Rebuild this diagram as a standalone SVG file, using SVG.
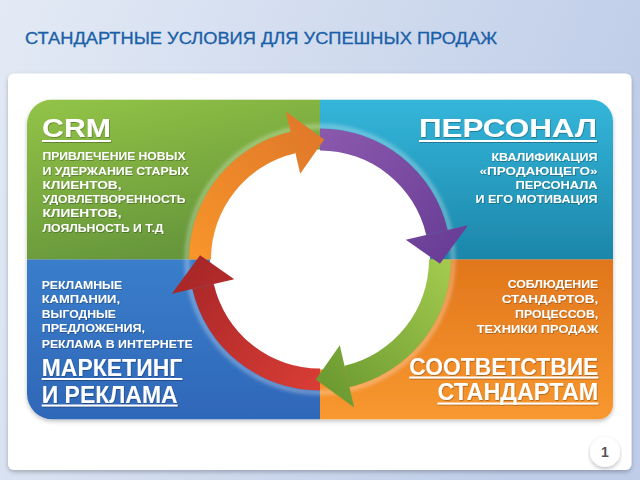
<svg xmlns="http://www.w3.org/2000/svg" width="640" height="480" viewBox="0 0 640 480">
<defs>
<linearGradient id="bg" x1="0" y1="0" x2="1" y2="0.3"><stop offset="0" stop-color="#e3eaf5"/><stop offset="1" stop-color="#bfcde8"/></linearGradient>
<linearGradient id="gGreen" x1="0" y1="0" x2="0.4" y2="1"><stop offset="0" stop-color="#93c447"/><stop offset="1" stop-color="#66963a"/></linearGradient>
<linearGradient id="gTeal" x1="0" y1="0" x2="0" y2="1"><stop offset="0" stop-color="#34b6da"/><stop offset="1" stop-color="#1c86a9"/></linearGradient>
<linearGradient id="gBlue" x1="0" y1="0" x2="0" y2="1"><stop offset="0" stop-color="#3a7ecb"/><stop offset="1" stop-color="#2f67b8"/></linearGradient>
<linearGradient id="gOrange" x1="0" y1="0" x2="0" y2="1"><stop offset="0" stop-color="#e1761c"/><stop offset="1" stop-color="#f8982f"/></linearGradient>
<linearGradient id="aOrange" gradientUnits="userSpaceOnUse" x1="195" y1="260" x2="320" y2="130"><stop offset="0" stop-color="#f8952a"/><stop offset="1" stop-color="#e0782a"/></linearGradient>
<linearGradient id="aPurple" gradientUnits="userSpaceOnUse" x1="320" y1="135" x2="445" y2="255"><stop offset="0" stop-color="#8a59ad"/><stop offset="1" stop-color="#6a3e96"/></linearGradient>
<linearGradient id="aGreen" gradientUnits="userSpaceOnUse" x1="445" y1="260" x2="320" y2="385"><stop offset="0" stop-color="#a2ca4e"/><stop offset="1" stop-color="#6c9a31"/></linearGradient>
<linearGradient id="aRed" gradientUnits="userSpaceOnUse" x1="320" y1="385" x2="195" y2="260"><stop offset="0" stop-color="#d83c35"/><stop offset="1" stop-color="#a82728"/></linearGradient>
<filter id="sh" x="-5%" y="-5%" width="110%" height="115%"><feDropShadow dx="0" dy="2" stdDeviation="2" flood-color="#000" flood-opacity="0.25"/></filter>
<filter id="tsh" x="-5%" y="-20%" width="110%" height="150%"><feDropShadow dx="0.6" dy="0.8" stdDeviation="0.5" flood-color="#000" flood-opacity="0.35"/></filter>
<filter id="glow" x="-10%" y="-10%" width="120%" height="120%"><feGaussianBlur stdDeviation="2"/></filter>
<clipPath id="quadClip"><path d="M52,99.5 H591 A22,22 0 0 1 613,121.5 V404.5 A15,15 0 0 1 598,419.5 H53 A26,26 0 0 1 27,393.5 V124.5 A25,25 0 0 1 52,99.5 Z"/></clipPath>
</defs>
<style>
.head{font-family:"Liberation Sans",Arial,sans-serif;font-weight:bold;font-size:26px;fill:#fff}
.head2{font-family:"Liberation Sans",Arial,sans-serif;font-weight:bold;font-size:23.5px;fill:#fff}
.body{font-family:"Liberation Sans",Arial,sans-serif;font-weight:bold;font-size:10.5px;fill:#fff}
.ul{fill:#fff}
</style>
<rect x="0" y="0" width="640" height="480" fill="url(#bg)"/>
<text x="25" y="44" font-family="'Liberation Sans',Arial,sans-serif" font-size="16" fill="#1a5fa8" stroke="#1a5fa8" stroke-width="0.3" textLength="472" lengthAdjust="spacingAndGlyphs">СТАНДАРТНЫЕ УСЛОВИЯ ДЛЯ УСПЕШНЫХ ПРОДАЖ</text>
<rect x="8" y="73.5" width="623.5" height="396.5" rx="6" fill="#fff" filter="url(#sh)"/>

<g filter="url(#sh)">
<g clip-path="url(#quadClip)">
<g id="crm"><rect x="27" y="99.5" width="293" height="160" fill="url(#gGreen)"/></g>
<g id="personal"><rect x="320" y="99.5" width="293" height="160" fill="url(#gTeal)"/></g>
<g id="marketing"><rect x="27" y="259.5" width="293" height="160" fill="url(#gBlue)"/></g>
<g id="standards"><rect x="320" y="259.5" width="293" height="160" fill="url(#gOrange)"/></g>
</g>
</g>

<circle cx="320" cy="259.5" r="133" fill="none" stroke="#fff" stroke-opacity="0.5" stroke-width="3" filter="url(#glow)"/>
<circle cx="320" cy="259.5" r="110" fill="#fff"/>

<g id="connectors">
<path fill="url(#aOrange)" d="M189,259.5 A131,131 0 0 1 290.53,131.86 L295.48,153.29 A109,109 0 0 0 211,259.5 Z"/>
<path fill="url(#aPurple)" d="M320,128.5 A131,131 0 0 1 447.64,230.03 L426.21,234.98 A109,109 0 0 0 320,150.5 Z"/>
<path fill="url(#aGreen)" d="M451,259.5 A131,131 0 0 1 349.47,387.14 L344.52,365.71 A109,109 0 0 0 429,259.5 Z"/>
<path fill="url(#aRed)" d="M320,390.5 A131,131 0 0 1 192.36,288.97 L213.79,284.02 A109,109 0 0 0 320,368.5 Z"/>
<path fill="url(#aOrange)" d="M285.81,111.40 L324.19,139.57 L300.20,173.76 Z"/>
<path fill="url(#aPurple)" d="M468.10,225.31 L439.93,263.69 L405.74,239.70 Z"/>
<path fill="url(#aGreen)" d="M354.19,407.60 L315.81,379.43 L339.80,345.24 Z"/>
<path fill="url(#aRed)" d="M171.90,293.69 L200.07,255.31 L234.26,279.30 Z"/>
</g>

<g id="crm-text" filter="url(#tsh)">
<text class="head" x="42" y="137" textLength="69" lengthAdjust="spacingAndGlyphs">CRM</text>
<rect class="ul" x="42" y="140" width="69" height="2"/>
<text class="body" x="42.5" y="160" textLength="143" lengthAdjust="spacingAndGlyphs">ПРИВЛЕЧЕНИЕ НОВЫХ</text>
<text class="body" x="42.5" y="174.5" textLength="146.5" lengthAdjust="spacingAndGlyphs">И УДЕРЖАНИЕ СТАРЫХ</text>
<text class="body" x="42.5" y="188.5" textLength="79" lengthAdjust="spacingAndGlyphs">КЛИЕНТОВ,</text>
<text class="body" x="42.5" y="203" textLength="143" lengthAdjust="spacingAndGlyphs">УДОВЛЕТВОРЕННОСТЬ</text>
<text class="body" x="42.5" y="217" textLength="79" lengthAdjust="spacingAndGlyphs">КЛИЕНТОВ,</text>
<text class="body" x="42.5" y="232" textLength="121" lengthAdjust="spacingAndGlyphs">ЛОЯЛЬНОСТЬ И Т.Д</text>
</g>

<g id="personal-text" filter="url(#tsh)">
<text class="head" x="419" y="137" textLength="178" lengthAdjust="spacingAndGlyphs">ПЕРСОНАЛ</text>
<rect class="ul" x="419" y="140" width="178" height="2"/>
<text class="body" x="491.5" y="160.5" textLength="106" lengthAdjust="spacingAndGlyphs">КВАЛИФИКАЦИЯ</text>
<text class="body" x="479.5" y="174.5" textLength="118" lengthAdjust="spacingAndGlyphs">«ПРОДАЮЩЕГО»</text>
<text class="body" x="515.5" y="189" textLength="82" lengthAdjust="spacingAndGlyphs">ПЕРСОНАЛА</text>
<text class="body" x="475.5" y="203.3" textLength="122" lengthAdjust="spacingAndGlyphs">И ЕГО МОТИВАЦИЯ</text>
</g>

<g id="marketing-text" filter="url(#tsh)">
<text class="body" x="41.7" y="289" textLength="80.6" lengthAdjust="spacingAndGlyphs">РЕКЛАМНЫЕ</text>
<text class="body" x="41.7" y="303.3" textLength="78.3" lengthAdjust="spacingAndGlyphs">КАМПАНИИ,</text>
<text class="body" x="41.7" y="318" textLength="74.3" lengthAdjust="spacingAndGlyphs">ВЫГОДНЫЕ</text>
<text class="body" x="41.7" y="332.3" textLength="103.3" lengthAdjust="spacingAndGlyphs">ПРЕДЛОЖЕНИЯ,</text>
<text class="body" x="41.7" y="347.7" textLength="151" lengthAdjust="spacingAndGlyphs">РЕКЛАМА В ИНТЕРНЕТЕ</text>
<text class="head2" x="41.7" y="376" textLength="140.6" lengthAdjust="spacingAndGlyphs">МАРКЕТИНГ</text>
<rect class="ul" x="41.7" y="378" width="140.6" height="2"/>
<text class="head2" x="41.7" y="402.5" textLength="136" lengthAdjust="spacingAndGlyphs">И РЕКЛАМА</text>
<rect class="ul" x="41.7" y="404.5" width="136" height="2"/>
</g>

<g id="standards-text" filter="url(#tsh)">
<text class="body" x="507.7" y="288.3" textLength="90.6" lengthAdjust="spacingAndGlyphs">СОБЛЮДЕНИЕ</text>
<text class="body" x="501.7" y="303.3" textLength="96.6" lengthAdjust="spacingAndGlyphs">СТАНДАРТОВ,</text>
<text class="body" x="515" y="318.3" textLength="83.3" lengthAdjust="spacingAndGlyphs">ПРОЦЕССОВ,</text>
<text class="body" x="476.7" y="333.3" textLength="121.6" lengthAdjust="spacingAndGlyphs">ТЕХНИКИ ПРОДАЖ</text>
<text class="head2" x="409.3" y="374.5" textLength="189" lengthAdjust="spacingAndGlyphs">СООТВЕТСТВИЕ</text>
<rect class="ul" x="409.3" y="376.5" width="189" height="2"/>
<text class="head2" x="437.5" y="400" textLength="160.8" lengthAdjust="spacingAndGlyphs">СТАНДАРТАМ</text>
<rect class="ul" x="437.5" y="402.5" width="160.8" height="2"/>
</g>

<g id="page-number">
<circle cx="605" cy="452" r="15" fill="#fff" filter="url(#sh)"/>
<text x="605" y="457" text-anchor="middle" font-family="'Liberation Sans',Arial,sans-serif" font-weight="bold" font-size="14" fill="#555">1</text>
</g>
</svg>
